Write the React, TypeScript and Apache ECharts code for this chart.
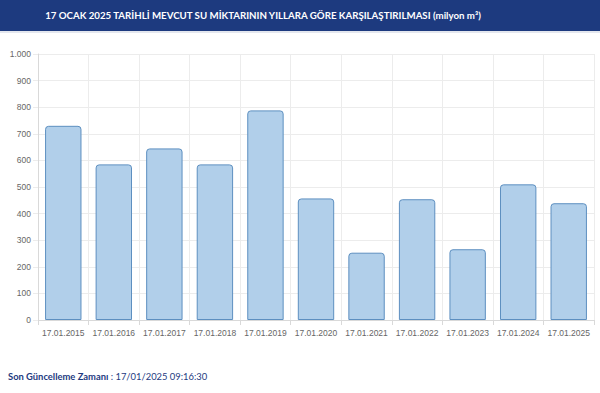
import React, { useEffect, useRef } from "react";
import * as echarts from "echarts";

const titleText = "17 OCAK 2025 TARİHLİ MEVCUT SU MİKTARININ YILLARA GÖRE KARŞILAŞTIRILMASI (milyon m³)";
const categories = [
  "17.01.2015", "17.01.2016", "17.01.2017", "17.01.2018", "17.01.2019", "17.01.2020",
  "17.01.2021", "17.01.2022", "17.01.2023", "17.01.2024", "17.01.2025",
];
const values = [730, 585, 645, 585, 788, 457, 253, 454, 266, 510, 439];
const footerLabel = "Son Güncelleme Zamanı";
const footerValue = " : 17/01/2025 09:16:30";

export default function App() {
  const ref = useRef<HTMLDivElement>(null);
  useEffect(() => {
    if (!ref.current) return;
    const chart = echarts.init(ref.current, null, { renderer: "svg" });
    chart.setOption({
      animation: false,
      backgroundColor: "#ffffff",
      graphic: [
        { type: "rect", shape: { x: 0, y: 0, width: 600, height: 31 }, style: { fill: "#1d3a7f" } },
        { type: "rect", shape: { x: 0, y: 31, width: 600, height: 2 }, style: { fill: "#e4e7ee" } },
        {
          type: "text", x: 263, y: 15,
          style: {
            text: titleText, fill: "#ffffff", fontFamily: "Lato", fontWeight: "bold",
            fontSize: 9.7, align: "center", verticalAlign: "middle",
          },
        },
        {
          type: "text", x: 8, y: 376,
          style: {
            text: "{a|" + footerLabel + "}{b|" + footerValue + "}",
            verticalAlign: "middle",
            rich: {
              a: { fontFamily: "Lato", fontWeight: "bold", fontSize: 9.4, fill: "#1d3a7f" },
              b: { fontFamily: "Lato", fontSize: 9.4, fill: "#1d3a7f" },
            },
          },
        },
      ],
      grid: { left: 38, right: 6, top: 54, bottom: 73, containLabel: false },
      xAxis: {
        type: "category",
        data: categories,
        boundaryGap: true,
        axisLine: { lineStyle: { color: "#d9d9d9" } },
        axisTick: { show: true, interval: 0, length: 5, lineStyle: { color: "#d9d9d9" } },
        axisLabel: { interval: 0, color: "#666666", fontSize: 8.5, fontFamily: "Liberation Sans", margin: 8 },
        splitLine: { show: true, interval: 0, lineStyle: { color: "#ececec" } },
      },
      yAxis: {
        type: "value",
        min: 0,
        max: 1000,
        interval: 100,
        axisLine: { show: true, lineStyle: { color: "#d9d9d9" } },
        axisTick: { show: true, length: 5, lineStyle: { color: "#ececec" } },
        axisLabel: {
          color: "#666666", fontSize: 8.5, fontFamily: "Liberation Sans", margin: 7,
          formatter: (v: number) => (v >= 1000 ? String(v).replace(/\B(?=(\d{3})+(?!\d))/g, ".") : String(v)),
        },
        splitLine: { show: true, lineStyle: { color: "#ececec" } },
      },
      series: [
        {
          type: "bar",
          data: values,
          barCategoryGap: "28%",
          itemStyle: {
            color: "#b1cfea",
            borderColor: "#5d8fc0",
            borderWidth: 1,
            borderRadius: [3, 3, 0, 0],
          },
        },
      ],
    });
    return () => chart.dispose();
  }, []);
  return <div ref={ref} style={{ width: 600, height: 393, position: "absolute", left: 0, top: 0 }} />;
}
